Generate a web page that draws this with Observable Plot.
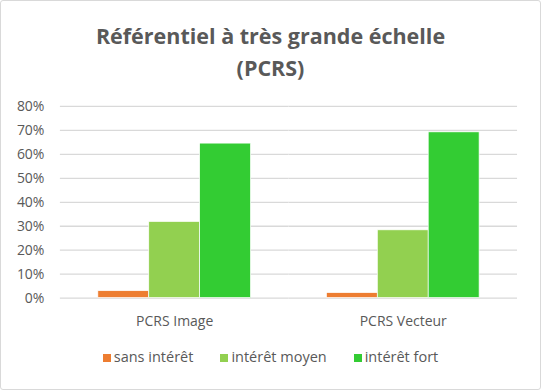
<!DOCTYPE html>
<html><head><meta charset="utf-8">
<script src="https://cdn.jsdelivr.net/npm/d3@7"></script>
<script src="https://cdn.jsdelivr.net/npm/@observablehq/plot@0.6"></script>
<style>
body{margin:0;background:#fff;font-family:"Open Sans",sans-serif;}
#wrap{position:relative;width:539px;height:388px;border:1px solid #d9d9d9;border-radius:3px;overflow:hidden;background:#fff;}
#title{position:absolute;top:19px;left:0;width:539px;text-align:center;color:#595959;font-weight:bold;font-size:21.5px;line-height:32px;}
#chart{position:absolute;top:89px;left:-1px;}
#legend{position:absolute;top:346px;left:0;width:539px;display:flex;justify-content:center;gap:27px;font-size:14.5px;color:#595959;}
#legend span.sw{display:inline-block;width:8px;height:8px;margin-right:3px;}
</style></head>
<body><div id="wrap"><div id="title">Référentiel à très grande échelle<br>(PCRS)</div><div id="chart"></div><div id="legend"></div></div>
<script>
const categories = ["PCRS Image", "PCRS Vecteur"];
const series = ["sans intérêt", "intérêt moyen", "intérêt fort"];
const colors = ["#ED7D31", "#92D050", "#33CC33"];
const valuesImage = [0.029, 0.318, 0.645];
const valuesVecteur = [0.021, 0.283, 0.692];
const yTicks = [0, 0.1, 0.2, 0.3, 0.4, 0.5, 0.6, 0.7, 0.8];

const rows = [];
[valuesImage, valuesVecteur].forEach((vals, i) =>
  vals.forEach((v, j) => rows.push({cat: categories[i], s: series[j], v})));

const plot = Plot.plot({
  width: 541, height: 245,
  marginLeft: 60, marginRight: 23, marginTop: 16, marginBottom: 37,
  style: {fontFamily: "'Open Sans', sans-serif", fontSize: "14px", color: "#595959"},
  fx: {domain: categories, padding: 0, label: null, axis: null},
  x: {domain: series, paddingInner: 0, paddingOuter: 0.745, axis: null},
  y: {domain: [0, 0.8], ticks: yTicks, tickFormat: d3.format(".0%"), label: null},
  color: {domain: series, range: colors},
  marks: [
    Plot.gridY(yTicks, {stroke: "#d9d9d9", strokeOpacity: 1, strokeWidth: 1.3}),
    Plot.axisY(yTicks, {tickSize: 0, tickPadding: 16, tickFormat: d3.format(".0%"), fontSize: 14, fill: "#595959", label: null}),
    Plot.barY(rows, {fx: "cat", x: "s", y: "v", fill: "s", stroke: "white", strokeWidth: 0.7}),
    Plot.axisFx({anchor: "bottom", tickSize: 0, tickPadding: 18, fontSize: 14, fill: "#595959", label: null}),
  ]
});
document.getElementById("chart").appendChild(plot);

const lg = document.getElementById("legend");
series.forEach((s, i) => {
  const d = document.createElement("div");
  d.innerHTML = `<span class="sw" style="background:${colors[i]}"></span>${s}`;
  lg.appendChild(d);
});
</script></body></html>
